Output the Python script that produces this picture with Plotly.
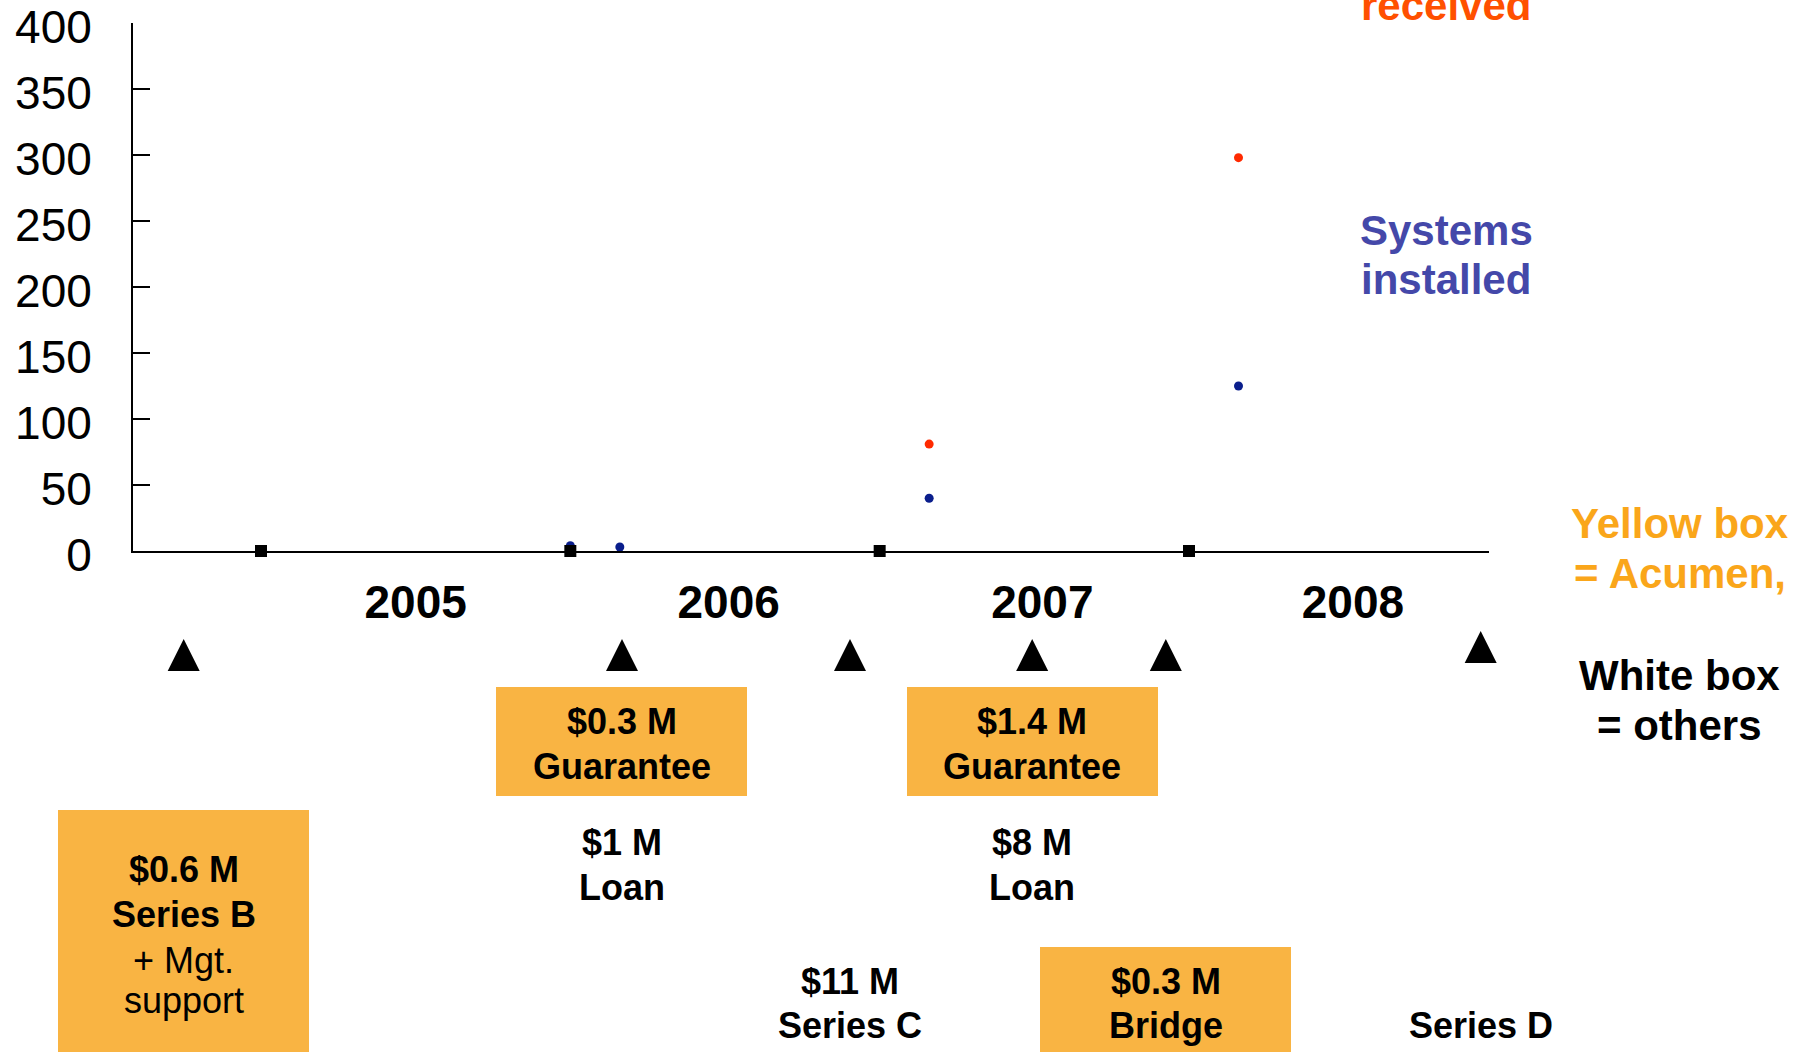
import plotly.graph_objects as go

# ---------------- data ----------------
orders_x = [2007.16, 2008.16]
orders_y = [81, 298]
installed_x = [2006.0, 2006.16, 2007.16, 2008.16]
installed_y = [4, 3, 40, 125]
year_marks_x = [2005, 2006, 2007, 2008]
year_marks_y = [0, 0, 0, 0]
year_tick_vals = [2005.5, 2006.512, 2007.526, 2008.53]
year_tick_text = ["2005", "2006", "2007", "2008"]
y_tick_vals = [0, 50, 100, 150, 200, 250, 300, 350, 400]
event_x = [2004.75, 2006.167, 2006.904, 2007.493, 2007.925, 2008.943]

# funding labels: (event index, lines, acumen box?)
funding = [
    (0, ["<b>$0.6 M</b>", "<b>Series B</b>", "+ Mgt.", "support"], True),
    (1, ["<b>$0.3 M</b>", "<b>Guarantee</b>"], True),
    (1, ["<b>$1 M</b>", "<b>Loan</b>"], False),
    (2, ["<b>$11 M</b>", "<b>Series C</b>"], False),
    (3, ["<b>$1.4 M</b>", "<b>Guarantee</b>"], True),
    (3, ["<b>$8 M</b>", "<b>Loan</b>"], False),
    (4, ["<b>$0.3 M</b>", "<b>Bridge</b>"], True),
    (5, ["<b>Series D</b>"], False),
]

# ---------------- layout geometry (pixels) ----------------
W, H = 1808, 1052
L, R, T = 133, 1489, 23
AXIS_Y = 551
FONT = "Arial, Liberation Sans, sans-serif"
BOX = "#F9B443"

# line baselines (px) per funding entry, and box top/height
line_base = [
    [882, 927, 973, 1013],
    [734, 779],
    [855, 900],
    [994, 1038],
    [734, 779],
    [855, 900],
    [994, 1038],
    [1038],
]
box_geom = {0: (810, 256), 1: (687, 109), 4: (687, 109), 6: (947, 109)}
tri_tip = [639, 639, 639, 639, 639, 631]

def y2(p):
    return p - AXIS_Y

def ctr(base, size):
    return base - 0.3465 * size

def xp(p):
    return (p - L) / (R - L)

def yp(p):
    return (H - p) / (H - T)

px_per_year = (1189 - 261) / 3.0
x_lo = 2005 - (261 - L) / px_per_year
x_hi = 2005 + (R - 261) / px_per_year

fig = go.Figure()

fig.add_trace(go.Scatter(x=orders_x, y=orders_y, mode="markers",
                         marker=dict(color="#FF2A00", size=9),
                         cliponaxis=False, showlegend=False))
fig.add_trace(go.Scatter(x=installed_x, y=installed_y, mode="markers",
                         marker=dict(color="#0A1E8C", size=9),
                         cliponaxis=False, showlegend=False))
fig.add_trace(go.Scatter(x=year_marks_x, y=year_marks_y, mode="markers",
                         marker=dict(color="black", size=12, symbol="square"),
                         cliponaxis=False, showlegend=False))
fig.add_trace(go.Scatter(x=event_x, y=[y2(t) for t in tri_tip], mode="markers",
                         yaxis="y2",
                         marker=dict(color="black", size=32, symbol="arrow-up"),
                         cliponaxis=False, showlegend=False))

annotations = []
for k, (ei, lines, acumen) in enumerate(funding):
    if acumen:
        top, hgt = box_geom[k]
        annotations.append(dict(
            x=event_x[ei], y=y2(top), xref="x", yref="y2",
            xanchor="center", yanchor="top", text=" ",
            width=251, height=hgt, bgcolor=BOX, borderpad=0, borderwidth=0,
            showarrow=False))
    for line, base in zip(lines, line_base[k]):
        annotations.append(dict(
            x=event_x[ei], y=y2(ctr(base, 36)), xref="x", yref="y2",
            xanchor="center", yanchor="middle", text=line, showarrow=False,
            font=dict(family=FONT, size=36, color="black")))

legend_text = [
    ("received", 1445.5, 20, "#FF5000"),
    ("Systems", 1446, 245, "#4448A9"),
    ("installed", 1445.5, 294, "#4448A9"),
    ("Yellow box", 1680, 538, "#FAA61A"),
    ("= Acumen,", 1679.5, 588, "#FAA61A"),
    ("White box", 1680, 690, "black"),
    ("= others", 1679.5, 740, "black"),
]
for txt, cx, base, col in legend_text:
    annotations.append(dict(
        x=xp(cx), y=yp(ctr(base, 42)), xref="paper", yref="paper",
        xanchor="center", yanchor="middle", text="<b>" + txt + "</b>",
        showarrow=False, font=dict(family=FONT, size=42, color=col)))

split = (H - AXIS_Y) / (H - T)

fig.update_layout(
    width=W, height=H,
    margin=dict(l=L, r=W - R, t=T, b=0, pad=0, autoexpand=False),
    paper_bgcolor="white", plot_bgcolor="white",
    font=dict(family=FONT, color="black"),
    showlegend=False,
    xaxis=dict(range=[x_lo, x_hi], showgrid=False, zeroline=False,
               showline=True, linecolor="black", linewidth=2,
               tickmode="array", tickvals=year_tick_vals, ticktext=year_tick_text,
               ticks="", tickfont=dict(family=FONT, size=46, color="black", weight="bold"),
               ticklabelstandoff=10, anchor="y", automargin=False,
               ticklabeloverflow="allow"),
    yaxis=dict(domain=[split, 1], range=[0, 400], showgrid=False, zeroline=False,
               showline=True, linecolor="black", linewidth=2,
               tickmode="array", tickvals=y_tick_vals,
               ticks="inside", ticklen=17, tickwidth=2, tickcolor="black",
               tickfont=dict(family=FONT, size=46, color="black"),
               ticklabelstandoff=30, ticklabelshift=4, anchor="x", automargin=False,
               ticklabeloverflow="allow"),
    yaxis2=dict(domain=[0, split], range=[H - AXIS_Y, 0], visible=False,
                anchor="x", showgrid=False, zeroline=False, automargin=False),
    annotations=annotations,
)

fig.write_html(
    "out.html",
    config={"displayModeBar": False},
    post_script="document.body.style.margin='0';document.body.style.overflow='hidden';",
)
